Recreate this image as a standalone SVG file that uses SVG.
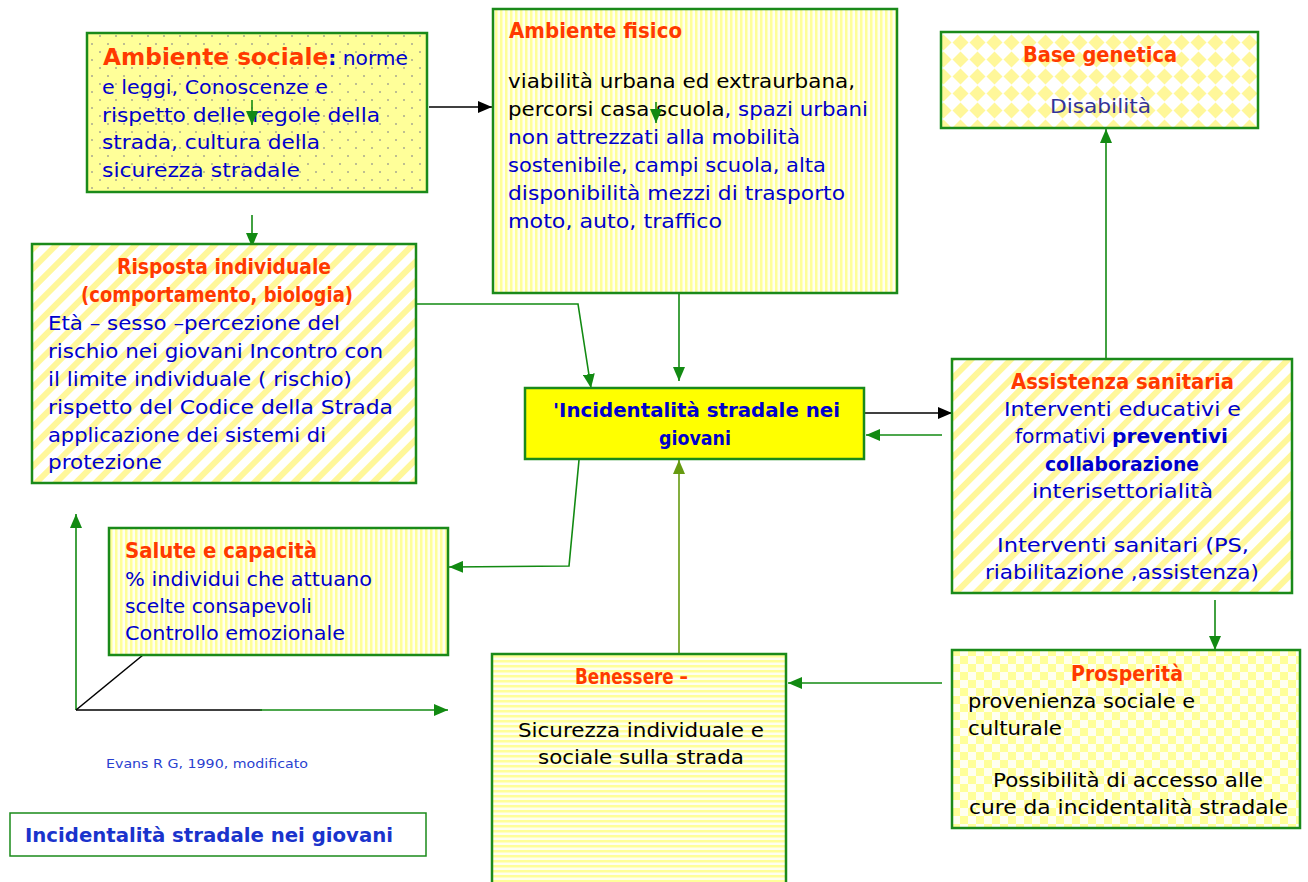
<svg xmlns="http://www.w3.org/2000/svg" width="1308" height="882" viewBox="0 0 1308 882">
<style>
.box{stroke:#1a8a1a;stroke-width:2.5}
.t{font-family:"DejaVu Sans","Liberation Sans",sans-serif;font-size:20px;fill:#0000cc}
.k{fill:#000}
.h{font-family:"DejaVu Sans","Liberation Sans",sans-serif;font-size:21px;font-weight:bold;fill:#ff3a00}
.b{font-weight:bold}
.c{fill:none;stroke:#128a12;stroke-width:1.6}
.blk{fill:none;stroke:#000;stroke-width:1.6}
</style>
<defs>
<pattern id="dots" width="16" height="16" patternUnits="userSpaceOnUse">
<rect width="16" height="16" fill="#ffff99"/>
<circle cx="4" cy="4" r="1" fill="#a8a890"/>
<circle cx="12" cy="12" r="1" fill="#a8a890"/>
</pattern>
<pattern id="vstr" width="5" height="5" patternUnits="userSpaceOnUse">
<rect width="5" height="5" fill="#fffff0"/>
<rect width="2.5" height="5" fill="#ffff99"/>
</pattern>
<pattern id="hstr" width="5" height="5" patternUnits="userSpaceOnUse">
<rect width="5" height="5" fill="#fffff0"/>
<rect width="5" height="2.5" fill="#ffff99"/>
</pattern>
<pattern id="diag" width="14" height="14" patternUnits="userSpaceOnUse" patternTransform="rotate(45)">
<rect width="14" height="14" fill="#ffffff"/>
<rect width="6" height="14" fill="#fff79a"/>
</pattern>
<pattern id="diam" width="17" height="17" patternUnits="userSpaceOnUse">
<rect width="17" height="17" fill="#ffffff"/>
<polygon points="8.5,0.5 16.5,8.5 8.5,16.5 0.5,8.5" fill="#fff79a"/>
</pattern>
<pattern id="chk" width="16" height="16" patternUnits="userSpaceOnUse">
<rect width="16" height="16" fill="#fffff0"/>
<rect width="8" height="8" fill="#ffff99"/>
<rect x="8" y="8" width="8" height="8" fill="#ffff99"/>
</pattern>
<marker id="ag" markerWidth="14" markerHeight="12" refX="14" refY="6" orient="auto" markerUnits="userSpaceOnUse">
<polygon points="0,0 14,6 0,12" fill="#128a12"/>
</marker>
<marker id="ak" markerWidth="14" markerHeight="12" refX="14" refY="6" orient="auto" markerUnits="userSpaceOnUse">
<polygon points="0,0 14,6 0,12" fill="#000"/>
</marker>
<marker id="ao" markerWidth="14" markerHeight="12" refX="14" refY="6" orient="auto" markerUnits="userSpaceOnUse">
<polygon points="0,0 14,6 0,12" fill="#669a10"/>
</marker>
</defs>
<rect width="1308" height="882" fill="#ffffff"/>

<g id="connectors">
<line class="blk" x1="429" y1="107" x2="492" y2="107" marker-end="url(#ak)"/>
<line class="c" x1="252" y1="215" x2="252" y2="247" marker-end="url(#ag)"/>
<polyline class="c" points="416,304 578,304 591,388" marker-end="url(#ag)"/>
<line class="c" x1="679" y1="293" x2="679" y2="381" marker-end="url(#ag)"/>
<line class="blk" x1="853" y1="413" x2="952" y2="413" marker-end="url(#ak)"/>
<line class="c" x1="942" y1="435" x2="866" y2="435" marker-end="url(#ag)"/>
<polyline class="c" points="579,460 569,566 449,567" marker-end="url(#ag)"/>
<line x1="679" y1="653" x2="679" y2="460" fill="none" stroke="#669a10" stroke-width="1.6" marker-end="url(#ao)"/>
<line class="c" x1="942" y1="683" x2="788" y2="683" marker-end="url(#ag)"/>
<line class="c" x1="1106" y1="358" x2="1106" y2="129" marker-end="url(#ag)"/>
<line class="c" x1="1215" y1="600" x2="1215" y2="650" marker-end="url(#ag)"/>
<line class="c" x1="76" y1="710" x2="76" y2="514" marker-end="url(#ag)"/>
<line class="blk" x1="76" y1="710" x2="262" y2="710"/>
<line class="c" x1="260" y1="710" x2="448" y2="710" marker-end="url(#ag)"/>
<line class="blk" x1="76" y1="710" x2="143" y2="655"/>
</g>

<g id="ambiente-sociale">
<rect class="box" x="87" y="33" width="340" height="159" fill="url(#dots)"/>
<text class="t" x="103" y="65" textLength="305" lengthAdjust="spacingAndGlyphs"><tspan class="h" font-size="23" style="font-size:23px">Ambiente sociale</tspan><tspan class="b">:</tspan> norme</text>
<text class="t" x="102" y="94" textLength="226" lengthAdjust="spacingAndGlyphs">e leggi, Conoscenze e</text>
<text class="t" x="102" y="122" textLength="278" lengthAdjust="spacingAndGlyphs">rispetto delle regole della</text>
<text class="t" x="102" y="149" textLength="218" lengthAdjust="spacingAndGlyphs">strada, cultura della</text>
<text class="t" x="102" y="177" textLength="198" lengthAdjust="spacingAndGlyphs">sicurezza stradale</text>
<line class="c" x1="252" y1="100" x2="252" y2="125" marker-end="url(#ag)"/>
</g>

<g id="ambiente-fisico">
<rect class="box" x="493" y="9" width="404" height="284" fill="url(#vstr)"/>
<text class="h" x="509" y="38" textLength="173" lengthAdjust="spacingAndGlyphs">Ambiente fisico</text>
<text class="t k" x="508" y="88" textLength="347" lengthAdjust="spacingAndGlyphs">viabilità urbana ed extraurbana,</text>
<text class="t" x="508" y="116" textLength="360" lengthAdjust="spacingAndGlyphs"><tspan class="k">percorsi casa scuola</tspan>, spazi urbani</text>
<text class="t" x="508" y="144" textLength="292" lengthAdjust="spacingAndGlyphs">non attrezzati alla mobilità</text>
<text class="t" x="508" y="172" textLength="318" lengthAdjust="spacingAndGlyphs">sostenibile, campi scuola, alta</text>
<text class="t" x="508" y="200" textLength="337" lengthAdjust="spacingAndGlyphs">disponibilità mezzi di trasporto</text>
<text class="t" x="508" y="228" textLength="214" lengthAdjust="spacingAndGlyphs">moto, auto, traffico</text>
<line class="c" x1="656" y1="102" x2="656" y2="123" marker-end="url(#ag)"/>
</g>

<g id="base-genetica">
<rect class="box" x="941" y="32" width="317" height="96" fill="url(#diam)"/>
<text class="h" x="1023" y="62" textLength="154" lengthAdjust="spacingAndGlyphs">Base genetica</text>
<text class="t" x="1050" y="113" style="fill:#333399" textLength="101" lengthAdjust="spacingAndGlyphs">Disabilità</text>
</g>

<g id="risposta-individuale">
<rect class="box" x="32" y="244" width="384" height="239" fill="url(#diag)"/>
<text class="h" x="117" y="274" textLength="214" lengthAdjust="spacingAndGlyphs">Risposta individuale</text>
<text class="h" x="81" y="302" textLength="272" lengthAdjust="spacingAndGlyphs">(comportamento, biologia)</text>
<text class="t" x="48" y="330" textLength="292" lengthAdjust="spacingAndGlyphs">Età – sesso –percezione del</text>
<text class="t" x="48" y="358" textLength="335" lengthAdjust="spacingAndGlyphs">rischio nei giovani Incontro con</text>
<text class="t" x="48" y="386" textLength="304" lengthAdjust="spacingAndGlyphs">il limite individuale ( rischio)</text>
<text class="t" x="48" y="414" textLength="345" lengthAdjust="spacingAndGlyphs">rispetto del Codice della Strada</text>
<text class="t" x="48" y="442" textLength="278" lengthAdjust="spacingAndGlyphs">applicazione dei sistemi di</text>
<text class="t" x="48" y="469" textLength="114" lengthAdjust="spacingAndGlyphs">protezione</text>
</g>

<g id="incidentalita">
<rect class="box" x="525" y="388" width="339" height="71" fill="#ffff00"/>
<text class="t b" x="553" y="417" textLength="287" lengthAdjust="spacingAndGlyphs">'Incidentalità stradale nei</text>
<text class="t b" x="659" y="445" textLength="72" lengthAdjust="spacingAndGlyphs">giovani</text>
</g>

<g id="assistenza-sanitaria">
<rect class="box" x="952" y="359" width="340" height="234" fill="url(#diag)"/>
<text class="h" x="1011" y="389" textLength="223" lengthAdjust="spacingAndGlyphs">Assistenza sanitaria</text>
<text class="t" x="1004" y="416" textLength="237" lengthAdjust="spacingAndGlyphs">Interventi educativi e</text>
<text class="t" x="1015" y="443" textLength="213" lengthAdjust="spacingAndGlyphs">formativi <tspan class="b">preventivi</tspan></text>
<text class="t b" x="1045" y="471" textLength="154" lengthAdjust="spacingAndGlyphs">collaborazione</text>
<text class="t" x="1032" y="498" textLength="181" lengthAdjust="spacingAndGlyphs">interisettorialità</text>
<text class="t" x="997" y="552" textLength="252" lengthAdjust="spacingAndGlyphs">Interventi sanitari (PS,</text>
<text class="t" x="985" y="579" textLength="274" lengthAdjust="spacingAndGlyphs">riabilitazione ,assistenza)</text>
</g>

<g id="salute-capacita">
<rect class="box" x="109" y="528" width="339" height="127" fill="url(#vstr)"/>
<text class="h" x="125" y="558" textLength="192" lengthAdjust="spacingAndGlyphs">Salute e capacità</text>
<text class="t" x="125" y="586" textLength="247" lengthAdjust="spacingAndGlyphs">% individui che attuano</text>
<text class="t" x="125" y="613" textLength="187" lengthAdjust="spacingAndGlyphs">scelte consapevoli</text>
<text class="t" x="125" y="640" textLength="220" lengthAdjust="spacingAndGlyphs">Controllo emozionale</text>
</g>

<g id="benessere">
<rect class="box" x="492" y="654" width="294" height="232" fill="url(#hstr)"/>
<text class="h" x="575" y="684" textLength="113" lengthAdjust="spacingAndGlyphs">Benessere –</text>
<text class="t k" x="518" y="737" textLength="246" lengthAdjust="spacingAndGlyphs">Sicurezza individuale e</text>
<text class="t k" x="538" y="764" textLength="206" lengthAdjust="spacingAndGlyphs">sociale sulla strada</text>
</g>

<g id="prosperita">
<rect class="box" x="952" y="650" width="348" height="178" fill="url(#chk)"/>
<text class="h" x="1071" y="681" textLength="112" lengthAdjust="spacingAndGlyphs">Prosperità</text>
<text class="t k" x="968" y="708" textLength="227" lengthAdjust="spacingAndGlyphs">provenienza sociale e</text>
<text class="t k" x="968" y="735" textLength="94" lengthAdjust="spacingAndGlyphs">culturale</text>
<text class="t k" x="993" y="787" textLength="270" lengthAdjust="spacingAndGlyphs">Possibilità di accesso alle</text>
<text class="t k" x="969" y="814" textLength="319" lengthAdjust="spacingAndGlyphs">cure da incidentalità stradale</text>
</g>

<g id="fonte">
<text class="t" x="106" y="768" style="font-size:13px;fill:#2a3fd0" textLength="202" lengthAdjust="spacingAndGlyphs">Evans R G, 1990, modificato</text>
</g>

<g id="titolo">
<rect x="10" y="813" width="416" height="43" fill="#ffffff" stroke="#1a8a1a" stroke-width="1.5"/>
<text class="t b" x="25" y="842" style="fill:#1a33cc" textLength="368" lengthAdjust="spacingAndGlyphs">Incidentalità stradale nei giovani</text>
</g>
</svg>
